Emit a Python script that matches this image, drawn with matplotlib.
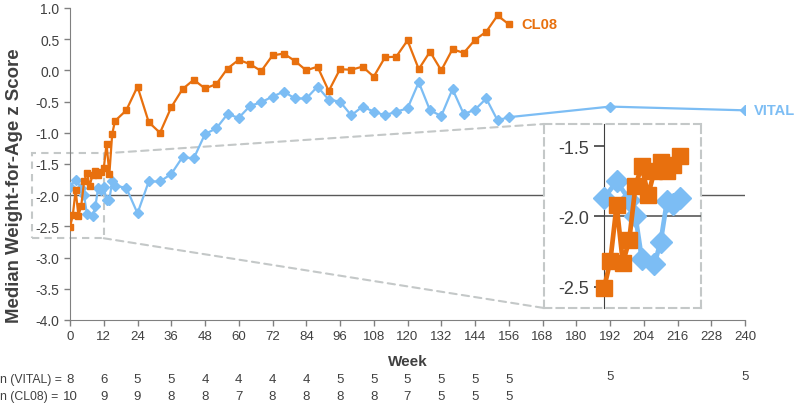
import matplotlib
matplotlib.use("Agg")
import matplotlib.pyplot as plt
from matplotlib.patches import Rectangle, ConnectionPatch
from matplotlib.transforms import blended_transform_factory

plt.rcParams['font.family'] = ['Liberation Sans', 'DejaVu Sans']
plt.rcParams['axes.unicode_minus'] = False

# --- data ---
vital_weeks = [0, 2, 4, 5, 6, 8, 9, 10, 11, 12, 13, 14, 15, 16, 20, 24, 28, 32, 36, 40,
               44, 48, 52, 56, 60, 64, 68, 72, 76, 80, 84, 88, 92, 96, 100, 104, 108,
               112, 116, 120, 124, 128, 132, 136, 140, 144, 148, 152, 156, 192, 240]
vital_z = [-1.87, -1.75, -1.88, -2.00, -2.30, -2.34, -2.18, -1.89, -1.91, -1.87, -2.08,
           -2.07, -1.78, -1.85, -1.88, -2.29, -1.78, -1.78, -1.66, -1.39, -1.41, -1.02,
           -0.93, -0.70, -0.76, -0.57, -0.51, -0.42, -0.34, -0.45, -0.45, -0.26, -0.47,
           -0.50, -0.72, -0.58, -0.66, -0.72, -0.66, -0.61, -0.19, -0.64, -0.73, -0.30,
           -0.70, -0.63, -0.45, -0.80, -0.75, -0.58, -0.64]

cl08_weeks = [0, 1, 2, 3, 4, 5, 6, 7, 8, 9, 10, 11, 12, 13, 14, 15, 16, 20, 24, 28, 32,
              36, 40, 44, 48, 52, 56, 60, 64, 68, 72, 76, 80, 84, 88, 92, 96, 100, 104,
              108, 112, 116, 120, 124, 128, 132, 136, 140, 144, 148, 152, 156]
cl08_z = [-2.51, -2.32, -1.92, -2.33, -2.17, -1.78, -1.64, -1.85, -1.675, -1.615, -1.675,
          -1.63, -1.57, -1.18, -1.66, -1.02, -0.81, -0.64, -0.26, -0.83, -1.00, -0.59,
          -0.30, -0.15, -0.29, -0.22, 0.03, 0.17, 0.10, -0.01, 0.24, 0.27, 0.15, 0.00,
          0.06, -0.33, 0.02, 0.01, 0.06, -0.10, 0.21, 0.22, 0.48, 0.02, 0.30, 0.00, 0.34,
          0.28, 0.49, 0.62, 0.88, 0.74]

n_weeks = [0, 12, 24, 36, 48, 60, 72, 84, 96, 108, 120, 132, 144, 156]
n_vital = [8, 6, 5, 5, 4, 4, 4, 4, 5, 5, 5, 5, 5, 5]
n_cl08 = [10, 9, 9, 8, 8, 7, 8, 8, 8, 8, 7, 5, 5, 5]
n_vital_late_weeks = [192, 240]
n_vital_late = [5, 5]

BLUE = '#7CBDF4'
ORANGE = '#E8700E'
DASH = '#C4C8C8'
TXT = '#404040'
DASHES = (0, (3.5, 2.5))

fig = plt.figure(figsize=(7.97, 4.06), dpi=100)
W, H = 797, 406

def fig_rect(x0, y0, x1, y1):
    # pixel box (top-left origin) -> figure fraction
    return [x0 / W, 1 - y1 / H, (x1 - x0) / W, (y1 - y0) / H]

ax = fig.add_axes(fig_rect(70, 9, 745, 321))
ax.set_zorder(0)

ax.axhline(-2.0, color='#595959', lw=1.0, zorder=1)
ax.plot(vital_weeks, vital_z, color=BLUE, lw=1.6, marker='D', ms=5, zorder=3)
ax.plot(cl08_weeks, cl08_z, color=ORANGE, lw=1.6, marker='s', ms=5, zorder=4)

ax.set_xlim(0, 240)
ax.set_ylim(-4, 1)
ax.set_xticks(range(0, 241, 12))
ax.set_yticks([1.0, 0.5, 0.0, -0.5, -1.0, -1.5, -2.0, -2.5, -3.0, -3.5, -4.0])
ax.yaxis.set_major_formatter(plt.FormatStrFormatter('%.1f'))
for s in ['top', 'right']:
    ax.spines[s].set_visible(False)
for s in ['left', 'bottom']:
    ax.spines[s].set_color('#808080')
ax.tick_params(axis='both', colors='#808080', labelcolor=TXT, length=4, width=1)
ax.tick_params(axis='y', labelsize=10)
ax.tick_params(axis='x', labelsize=9.5)
ax.set_ylabel('Median Weight-for-Age z Score', fontsize=13.4, fontweight='bold',
              color=TXT, va='center')
ax.yaxis.set_label_coords(-0.0815, 0.433)
ax.set_xlabel('Week', fontsize=11, fontweight='bold', color=TXT, labelpad=8)

ax.text(cl08_weeks[-1] + 4.5, cl08_z[-1], 'CL08', color=ORANGE, fontsize=10.5,
        fontweight='bold', va='center', ha='left')
ax.text(vital_weeks[-1] + 3, vital_z[-1], 'VITAL', color=BLUE, fontsize=10.5,
        fontweight='bold', va='center', ha='left', clip_on=False)

# zoom region on main chart
y_lo, y_hi = -2.69, -1.33
ax.add_patch(Rectangle((-13.5, y_lo), 25.5, y_hi - y_lo, fill=False, ec=DASH, lw=1.5,
                       ls=DASHES, clip_on=False, zorder=2))

# inset box + inset axes
box = fig.add_axes(fig_rect(544, 125, 701, 309))
box.set_zorder(1)
box.set_xticks([])
box.set_yticks([])
box.set_facecolor('white')
for s in box.spines.values():
    s.set_color(DASH)
    s.set_linewidth(1.5)
    s.set_linestyle(DASHES)

for xy_main, xy_box in [((12, y_hi), (0, 1)), ((12, y_lo), (0, 0))]:
    con = ConnectionPatch(xyA=xy_main, coordsA=ax.transData, xyB=xy_box,
                          coordsB=box.transAxes, color=DASH, lw=1.5,
                          ls=DASHES, zorder=2, clip_on=False)
    ax.add_artist(con)

ins = fig.add_axes(fig_rect(604, 125, 701, 309))
ins.set_zorder(2)
ins.patch.set_alpha(0)
ins.axhline(-2.0, color='#595959', lw=1.2, zorder=1)
vw = [w for w in vital_weeks if w <= 12]
co = [w for w in cl08_weeks if w <= 12]
ins.plot(vw, vital_z[:len(vw)], color=BLUE, lw=3.4, marker='D', ms=11, zorder=3,
         clip_on=False)
ins.plot(co, cl08_z[:len(co)], color=ORANGE, lw=3.4, marker='s', ms=11, zorder=4,
         clip_on=False)
ins.set_xlim(0, 15.4)
ins.set_ylim(-2.652, -1.341)
ins.set_yticks([-1.5, -2.0, -2.5])
ins.yaxis.set_major_formatter(plt.FormatStrFormatter('%.1f'))
ins.set_xticks([])
for s in ['top', 'right', 'bottom']:
    ins.spines[s].set_visible(False)
ins.spines['left'].set_color('#404040')
ins.tick_params(axis='y', colors='#404040', labelcolor=TXT, labelsize=13, length=7,
                width=1.2)

# n table under the axis
tr = blended_transform_factory(ax.transData, fig.transFigure)
y1 = 1 - 380 / H
y2 = 1 - 397 / H
fig.text(0.0, y1, 'n (VITAL) =', fontsize=8.8, color=TXT, va='center', ha='left')
fig.text(0.0, y2, 'n (CL08) =', fontsize=8.8, color=TXT, va='center', ha='left')
for w, n in zip(n_weeks, n_vital):
    ax.text(w, y1, str(n), transform=tr, fontsize=9.5, color=TXT, ha='center', va='center')
for w, n in zip(n_weeks, n_cl08):
    ax.text(w, y2, str(n), transform=tr, fontsize=9.5, color=TXT, ha='center', va='center')
for w, n in zip(n_vital_late_weeks, n_vital_late):
    ax.text(w, 1 - 377 / H, str(n), transform=tr, fontsize=9.5, color=TXT,
            ha='center', va='center')

fig.savefig('out.png', dpi=100)
